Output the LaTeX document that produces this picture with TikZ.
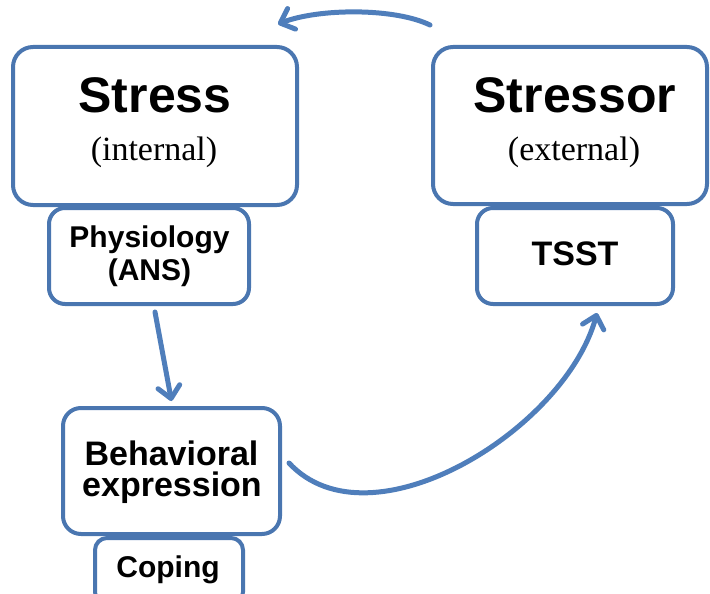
\documentclass[tikz,border=0pt]{standalone}
\usepackage{fontspec}
\setmainfont{Liberation Serif}
\setsansfont{Liberation Sans}
\usetikzlibrary{arrows.meta}
\definecolor{boxblue}{RGB}{74,118,176}
\definecolor{arrowblue}{RGB}{79,126,187}
\begin{document}
\begin{tikzpicture}[x=1pt,y=-1pt,
  box/.style={draw=boxblue, line width=4pt, fill=white, rounded corners=#1, inner sep=0pt},
  box/.default=16pt,
  bigtitle/.style={font=\sffamily\bfseries\fontsize{50}{50}\selectfont, anchor=base, inner sep=0pt},
  subtitle/.style={font=\rmfamily\fontsize{34}{34}\selectfont, anchor=base, inner sep=0pt},
  label/.style={font=\sffamily\bfseries\fontsize{#1}{#1}\selectfont, anchor=base, inner sep=0pt},
  label/.default=30,
  arr/.style={draw=arrowblue, line width=5pt, line cap=round,
    -{Straight Barb[round, length=12pt, width=22pt]}}
]
\clip (0,0) rectangle (710,594);

% upper boxes
\node[box=20pt, minimum width=284pt, minimum height=158pt] (stress) at (155,126) {};
\node[box=20pt, minimum width=274pt, minimum height=157pt] (stressor) at (570,125.5) {};
\node[box=16pt, minimum width=200pt, minimum height=96pt] (phys) at (149,256) {};
\node[box=16pt, minimum width=196pt, minimum height=96pt] (tsst) at (575,256) {};

% lower boxes
\node[box=12pt, minimum width=148pt, minimum height=66pt] (coping) at (169,571) {};
\node[box=18pt, minimum width=217pt, minimum height=126pt] (beh) at (171.5,471) {};

% texts
\node[bigtitle] (stressT) at (155,112) {Stress};
\node[subtitle] (stressS) at (154,160) {(internal)};
\node[bigtitle] (stressorT) at (575,112) {Stressor};
\node[subtitle] (stressorS) at (574,160) {(external)};
\node[label] (physT) at (149.5,247) {Physiology};
\node[label] (physS) at (149.5,280) {(ANS)};
\node[label=34] (tsstT) at (575,265) {TSST};
\node[label=34] (behT) at (171.5,465) {Behavioral};
\node[label=34] (behS) at (172,496) {expression};
\node[label] (copingT) at (168,577) {Coping};

% connectors
\coordinate (loopA) at ([xshift=-1pt,yshift=20pt]stressor.north west);
\coordinate (loopB) at ([xshift=-21pt,yshift=21pt]stress.north east);
\draw[arr] (loopA) .. controls (395,8) and (320,8) .. (loopB);

\draw[arr] ([xshift=6pt,yshift=-6pt]phys.south) -- ([yshift=5pt]beh.north);

\draw[arr] ([xshift=7pt,yshift=8pt]beh.east)
  .. controls (370,550) and (565,430) .. ([xshift=22pt,yshift=-7pt]tsst.south);
\end{tikzpicture}
\end{document}
